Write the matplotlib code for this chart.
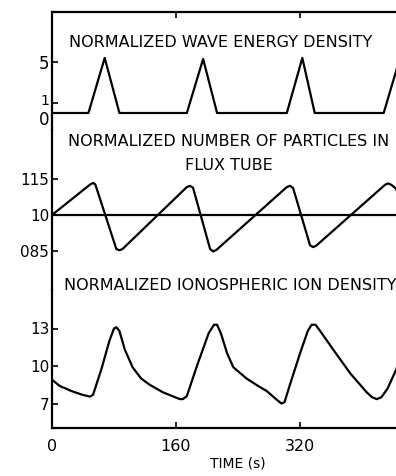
import matplotlib
matplotlib.use("Agg")
import matplotlib.pyplot as plt
from matplotlib.transforms import ScaledTranslation

plt.rcParams['font.family'] = ['DejaVu Sans']

# ---- data ----
wave_t = [0, 47, 68, 87, 174, 195, 213, 303, 323, 339, 428, 449, 468, 480]
wave_v = [0, 0, 5.4, 0, 0, 5.3, 0, 0, 5.4, 0, 0, 5.4, 0, 0]

part_t = [0, 49, 53, 56, 83, 87, 91, 174, 178, 182, 204, 208, 212,
          303, 307, 311, 333, 337, 341, 430, 434, 438, 444, 470]
part_v = [1.0, 1.125, 1.132, 1.125, 0.86, 0.855, 0.86, 1.115, 1.12, 1.112,
          0.86, 0.85, 0.856, 1.115, 1.12, 1.112, 0.875, 0.868, 0.874,
          1.125, 1.13, 1.124, 1.108, 0.86]
part_ref = 1.0

ion_t = [0, 10, 25, 39, 49, 53, 64, 74, 80, 83, 87, 94, 104, 115, 126, 143,
         157, 165, 169, 174, 187, 202, 209, 213, 218, 226, 234, 251, 266, 277,
         290, 296, 300, 307, 320, 330, 335, 340, 346, 363, 385, 406, 413, 419,
         425, 433, 444, 451]
ion_v = [8.9, 8.4, 8.0, 7.7, 7.55, 7.7, 9.8, 12.0, 13.0, 13.1, 12.8, 11.3,
         9.9, 9.0, 8.5, 7.9, 7.55, 7.35, 7.35, 7.6, 10.0, 12.6, 13.3, 13.3,
         12.6, 11.0, 9.9, 9.0, 8.4, 8.0, 7.3, 7.0, 7.1, 8.5, 11.0, 12.8, 13.3,
         13.3, 12.8, 11.3, 9.4, 7.9, 7.5, 7.35, 7.5, 8.2, 9.7, 11.0]

wave_ticks = [0, 1, 5]
wave_labels = ["0", "1", "5"]
part_ticks = [0.85, 1.0, 1.15]
part_labels = ["085", "10", "115"]
ion_ticks = [7, 10, 13]
ion_labels = ["7", "10", "13"]
x_ticks = [0, 160, 320]
x_labels = ["0", "160", "320"]

# ---- layout (pixel based) ----
W, H = 396, 476
fig = plt.figure(figsize=(W / 100, H / 100), dpi=100)

left_px = 52
px_per_s = 0.775
xmax = 480
width_px = xmax * px_per_s


def add_ax(top_px, bot_px):
    return fig.add_axes([left_px / W, 1 - bot_px / H, width_px / W,
                         (bot_px - top_px) / H])


ax1 = add_ax(12, 130)
ax2 = add_ax(130, 290)
ax3 = add_ax(290, 428)

lw = 1.6
col = "black"
title_fs = 11.5

for ax in (ax1, ax2, ax3):
    ax.set_xlim(0, xmax)
    ax.patch.set_alpha(0)
    for s in ax.spines.values():
        s.set_visible(False)
        s.set_linewidth(lw)
    ax.spines['left'].set_visible(True)
    ax.tick_params(axis='y', direction='in', length=4, width=1.2,
                   labelsize=11, pad=2)
    ax.tick_params(axis='x', bottom=False, top=False, labelbottom=False)

# panel 1
ax1.plot(wave_t, wave_v, color=col, lw=lw, solid_joinstyle='round')
ax1.set_ylim(-(130 - 113) / 10.2, (113 - 12) / 10.2)
ax1.set_yticks(wave_ticks)
ax1.set_yticklabels(wave_labels)
ax1.tick_params(axis='y', labelsize=12)
labs = ax1.get_yticklabels()
labs[0].set_transform(labs[0].get_transform() +
                      ScaledTranslation(0, -5 / 100, fig.dpi_scale_trans))
labs[1].set_transform(labs[1].get_transform() +
                      ScaledTranslation(0, 3 / 100, fig.dpi_scale_trans))
labs[1].set_fontsize(10)
ax1.spines['top'].set_visible(True)
ax1.tick_params(axis='x', top=True, direction='in', length=4, width=1.2,
                labeltop=False)
ax1.set_xticks([160, 320])
ax1.text(217, (113 - 43) / 10.2, "NORMALIZED WAVE ENERGY DENSITY",
         ha='center', va='center', fontsize=title_fs)

# panel 2
ax2.plot(part_t, part_v, color=col, lw=lw, solid_joinstyle='round')
ax2.axhline(part_ref, color=col, lw=lw)
ax2.set_ylim(1.0 - (290 - 215) / 243, 1.0 + (215 - 130) / 243)
ax2.set_yticks(part_ticks)
ax2.set_yticklabels(part_labels)
ax2.text(228, 1.0 + (215 - 141) / 243, "NORMALIZED NUMBER OF PARTICLES IN",
         ha='center', va='center', fontsize=title_fs)
ax2.text(228, 1.0 + (215 - 166) / 243, "FLUX TUBE",
         ha='center', va='center', fontsize=title_fs)

# panel 3
ax3.plot(ion_t, ion_v, color=col, lw=lw, solid_joinstyle='round')
ax3.set_ylim(10 - (428 - 366) / 12.5, 10 + (366 - 290) / 12.5)
ax3.set_yticks(ion_ticks)
ax3.set_yticklabels(ion_labels)
ax3.text(230, 10 + (366 - 285) / 12.5, "NORMALIZED IONOSPHERIC ION DENSITY",
         ha='center', va='center', fontsize=title_fs)
ax3.spines['bottom'].set_visible(True)
ax3.set_xticks(x_ticks)
ax3.set_xticklabels(x_labels)
ax3.tick_params(axis='x', bottom=True, labelbottom=True, direction='in',
                length=4, width=1.2, labelsize=11.5, pad=8)
ax3.xaxis.get_major_ticks()[0].tick1line.set_visible(False)
ax3.set_xlabel("TIME (s)", fontsize=10, labelpad=2)

fig.savefig("out.png", dpi=100)
